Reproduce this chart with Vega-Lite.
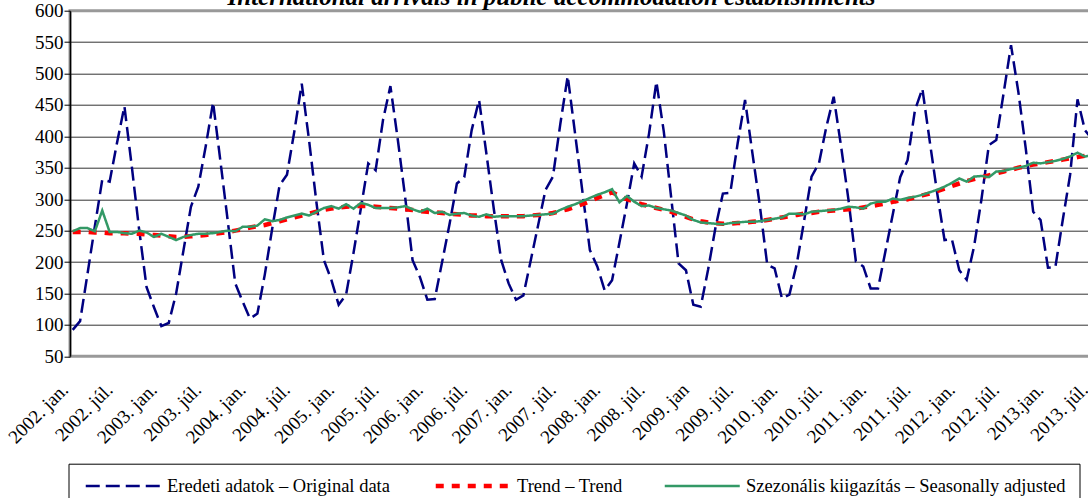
{
  "$schema": "https://vega.github.io/schema/vega-lite/v6.json",
  "width": 1025,
  "height": 345.6,
  "autosize": {"type": "none"},
  "padding": {"left": 70, "top": 10.7, "right": -7, "bottom": 141.7},
  "background": "white",
  "title": {
    "text": "International arrivals in public accommodation establishments",
    "font": "Liberation Serif, Times New Roman, DejaVu Serif, serif",
    "fontSize": 25,
    "fontStyle": "italic",
    "fontWeight": "bold",
    "color": "black",
    "anchor": "middle",
    "frame": "group",
    "baseline": "bottom",
    "offset": -33,
    "dx": -31
  },
  "config": {
    "view": {"stroke": "#999999", "strokeWidth": 3},
    "axis": {"labelFont": "Liberation Serif, Times New Roman, DejaVu Serif, serif", "labelColor": "black", "title": null},
    "legend": {
      "orient": "none",
      "legendX": -1.5,
      "legendY": 453,
      "direction": "horizontal",
      "strokeColor": "black",
      "fillColor": "white",
      "padding": 13,
      "symbolType": "M-1,0H14",
      "symbolSize": 100,
      "labelFont": "Liberation Serif, Times New Roman, DejaVu Serif, serif",
      "labelFontSize": 18.5,
      "labelColor": "black",
      "labelOffset": 67,
      "labelLimit": 0,
      "columnPadding": 36,
      "title": null
    }
  },
  "data": {
    "values": [
      {"m": "2002-01", "o": 92, "t": 248, "s": 249},
      {"m": "2002-02", "o": 106, "t": 248, "s": 254},
      {"m": "2002-03", "o": 181, "t": 248, "s": 254},
      {"m": "2002-04", "o": 257, "t": 247, "s": 249},
      {"m": "2002-05", "o": 331, "t": 247, "s": 282},
      {"m": "2002-06", "o": 328, "t": 246, "s": 248},
      {"m": "2002-07", "o": 390, "t": 246, "s": 248},
      {"m": "2002-08", "o": 448, "t": 246, "s": 246},
      {"m": "2002-09", "o": 352, "t": 245, "s": 245},
      {"m": "2002-10", "o": 251, "t": 245, "s": 250},
      {"m": "2002-11", "o": 160, "t": 244, "s": 247},
      {"m": "2002-12", "o": 128, "t": 243, "s": 240},
      {"m": "2003-01", "o": 98, "t": 242, "s": 245},
      {"m": "2003-02", "o": 103, "t": 241, "s": 240},
      {"m": "2003-03", "o": 150, "t": 240, "s": 235},
      {"m": "2003-04", "o": 219, "t": 240, "s": 240},
      {"m": "2003-05", "o": 288, "t": 241, "s": 243},
      {"m": "2003-06", "o": 320, "t": 242, "s": 245},
      {"m": "2003-07", "o": 384, "t": 243, "s": 245},
      {"m": "2003-08", "o": 454, "t": 245, "s": 246},
      {"m": "2003-09", "o": 360, "t": 246, "s": 248},
      {"m": "2003-10", "o": 264, "t": 248, "s": 250},
      {"m": "2003-11", "o": 166, "t": 250, "s": 249},
      {"m": "2003-12", "o": 137, "t": 252, "s": 256},
      {"m": "2004-01", "o": 110, "t": 255, "s": 256},
      {"m": "2004-02", "o": 118, "t": 257, "s": 258},
      {"m": "2004-03", "o": 180, "t": 259, "s": 268},
      {"m": "2004-04", "o": 253, "t": 262, "s": 265},
      {"m": "2004-05", "o": 322, "t": 265, "s": 267},
      {"m": "2004-06", "o": 339, "t": 268, "s": 271},
      {"m": "2004-07", "o": 408, "t": 271, "s": 274},
      {"m": "2004-08", "o": 484, "t": 274, "s": 277},
      {"m": "2004-09", "o": 393, "t": 277, "s": 274},
      {"m": "2004-10", "o": 294, "t": 280, "s": 280},
      {"m": "2004-11", "o": 203, "t": 283, "s": 286},
      {"m": "2004-12", "o": 172, "t": 285, "s": 289},
      {"m": "2005-01", "o": 132, "t": 287, "s": 285},
      {"m": "2005-02", "o": 148, "t": 288, "s": 292},
      {"m": "2005-03", "o": 214, "t": 289, "s": 285},
      {"m": "2005-04", "o": 285, "t": 289, "s": 294},
      {"m": "2005-05", "o": 357, "t": 289, "s": 291},
      {"m": "2005-06", "o": 346, "t": 288, "s": 286},
      {"m": "2005-07", "o": 426, "t": 287, "s": 286},
      {"m": "2005-08", "o": 480, "t": 286, "s": 286},
      {"m": "2005-09", "o": 395, "t": 285, "s": 287},
      {"m": "2005-10", "o": 303, "t": 284, "s": 289},
      {"m": "2005-11", "o": 203, "t": 283, "s": 284},
      {"m": "2005-12", "o": 176, "t": 281, "s": 280},
      {"m": "2006-01", "o": 140, "t": 280, "s": 285},
      {"m": "2006-02", "o": 141, "t": 279, "s": 278},
      {"m": "2006-03", "o": 200, "t": 278, "s": 280},
      {"m": "2006-04", "o": 260, "t": 277, "s": 275},
      {"m": "2006-05", "o": 325, "t": 276, "s": 277},
      {"m": "2006-06", "o": 335, "t": 275, "s": 278},
      {"m": "2006-07", "o": 410, "t": 274, "s": 274},
      {"m": "2006-08", "o": 458, "t": 274, "s": 272},
      {"m": "2006-09", "o": 372, "t": 273, "s": 276},
      {"m": "2006-10", "o": 284, "t": 273, "s": 272},
      {"m": "2006-11", "o": 203, "t": 273, "s": 273},
      {"m": "2006-12", "o": 166, "t": 273, "s": 273},
      {"m": "2007-01", "o": 140, "t": 273, "s": 273},
      {"m": "2007-02", "o": 147, "t": 273, "s": 273},
      {"m": "2007-03", "o": 203, "t": 274, "s": 274},
      {"m": "2007-04", "o": 259, "t": 275, "s": 275},
      {"m": "2007-05", "o": 315, "t": 276, "s": 276},
      {"m": "2007-06", "o": 336, "t": 278, "s": 277},
      {"m": "2007-07", "o": 420, "t": 281, "s": 283},
      {"m": "2007-08", "o": 496, "t": 284, "s": 288},
      {"m": "2007-09", "o": 404, "t": 288, "s": 292},
      {"m": "2007-10", "o": 311, "t": 292, "s": 297},
      {"m": "2007-11", "o": 219, "t": 297, "s": 302},
      {"m": "2007-12", "o": 193, "t": 302, "s": 307},
      {"m": "2008-01", "o": 155, "t": 307, "s": 311},
      {"m": "2008-02", "o": 171, "t": 311, "s": 316},
      {"m": "2008-03", "o": 231, "t": 305, "s": 295},
      {"m": "2008-04", "o": 292, "t": 300, "s": 305},
      {"m": "2008-05", "o": 357, "t": 296, "s": 296},
      {"m": "2008-06", "o": 336, "t": 292, "s": 289},
      {"m": "2008-07", "o": 404, "t": 289, "s": 290},
      {"m": "2008-08", "o": 487, "t": 286, "s": 286},
      {"m": "2008-09", "o": 408, "t": 283, "s": 284},
      {"m": "2008-10", "o": 303, "t": 280, "s": 282},
      {"m": "2008-11", "o": 198, "t": 276, "s": 278},
      {"m": "2008-12", "o": 187, "t": 272, "s": 274},
      {"m": "2009-01", "o": 132, "t": 268, "s": 267},
      {"m": "2009-02", "o": 129, "t": 265, "s": 263},
      {"m": "2009-03", "o": 188, "t": 263, "s": 262},
      {"m": "2009-04", "o": 255, "t": 262, "s": 261},
      {"m": "2009-05", "o": 309, "t": 261, "s": 260},
      {"m": "2009-06", "o": 310, "t": 261, "s": 262},
      {"m": "2009-07", "o": 389, "t": 262, "s": 263},
      {"m": "2009-08", "o": 458, "t": 263, "s": 264},
      {"m": "2009-09", "o": 373, "t": 264, "s": 264},
      {"m": "2009-10", "o": 290, "t": 265, "s": 265},
      {"m": "2009-11", "o": 196, "t": 267, "s": 267},
      {"m": "2009-12", "o": 190, "t": 269, "s": 269},
      {"m": "2010-01", "o": 142, "t": 271, "s": 271},
      {"m": "2010-02", "o": 148, "t": 273, "s": 277},
      {"m": "2010-03", "o": 197, "t": 275, "s": 277},
      {"m": "2010-04", "o": 266, "t": 277, "s": 276},
      {"m": "2010-05", "o": 336, "t": 278, "s": 280},
      {"m": "2010-06", "o": 357, "t": 280, "s": 281},
      {"m": "2010-07", "o": 415, "t": 281, "s": 282},
      {"m": "2010-08", "o": 463, "t": 282, "s": 283},
      {"m": "2010-09", "o": 384, "t": 283, "s": 285},
      {"m": "2010-10", "o": 299, "t": 284, "s": 288},
      {"m": "2010-11", "o": 201, "t": 285, "s": 287},
      {"m": "2010-12", "o": 193, "t": 287, "s": 285},
      {"m": "2011-01", "o": 158, "t": 289, "s": 293},
      {"m": "2011-02", "o": 158, "t": 291, "s": 296},
      {"m": "2011-03", "o": 217, "t": 293, "s": 296},
      {"m": "2011-04", "o": 276, "t": 296, "s": 301},
      {"m": "2011-05", "o": 335, "t": 298, "s": 299},
      {"m": "2011-06", "o": 362, "t": 300, "s": 302},
      {"m": "2011-07", "o": 442, "t": 303, "s": 304},
      {"m": "2011-08", "o": 476, "t": 306, "s": 307},
      {"m": "2011-09", "o": 392, "t": 309, "s": 311},
      {"m": "2011-10", "o": 310, "t": 313, "s": 315},
      {"m": "2011-11", "o": 235, "t": 317, "s": 320},
      {"m": "2011-12", "o": 236, "t": 321, "s": 326},
      {"m": "2012-01", "o": 187, "t": 325, "s": 333},
      {"m": "2012-02", "o": 172, "t": 329, "s": 328},
      {"m": "2012-03", "o": 225, "t": 332, "s": 336},
      {"m": "2012-04", "o": 300, "t": 335, "s": 337},
      {"m": "2012-05", "o": 386, "t": 338, "s": 335},
      {"m": "2012-06", "o": 394, "t": 341, "s": 344},
      {"m": "2012-07", "o": 469, "t": 344, "s": 345},
      {"m": "2012-08", "o": 545, "t": 347, "s": 348},
      {"m": "2012-09", "o": 470, "t": 350, "s": 350},
      {"m": "2012-10", "o": 380, "t": 353, "s": 353},
      {"m": "2012-11", "o": 280, "t": 355, "s": 358},
      {"m": "2012-12", "o": 267, "t": 357, "s": 357},
      {"m": "2013-01", "o": 191, "t": 359, "s": 359},
      {"m": "2013-02", "o": 192, "t": 361, "s": 361},
      {"m": "2013-03", "o": 267, "t": 363, "s": 364},
      {"m": "2013-04", "o": 339, "t": 365, "s": 368},
      {"m": "2013-05", "o": 459, "t": 367, "s": 374},
      {"m": "2013-06", "o": 410, "t": 369, "s": 368},
      {"m": "2013-07", "o": 395, "t": 371, "s": 370}
    ]
  },
  "transform": [{"fold": ["o", "t", "s"], "as": ["k", "v"]}],
  "mark": {"type": "line", "strokeCap": "butt", "strokeJoin": "miter"},
  "encoding": {
    "x": {
      "field": "m",
      "type": "ordinal",
      "sort": null,
      "scale": {"type": "point", "padding": 0.365},
      "axis": {
        "values": ["2002-01","2002-07","2003-01","2003-07","2004-01","2004-07","2005-01","2005-07","2006-01","2006-07","2007-01","2007-07","2008-01","2008-07","2009-01","2009-07","2010-01","2010-07","2011-01","2011-07","2012-01","2012-07","2013-01","2013-07"],
        "labelExpr": "slice(datum.value,0,4) + (datum.value == '2009-01' ? '. jan' : datum.value == '2013-01' ? '.jan.' : slice(datum.value,5) == '01' ? '. jan.' : '. júl.')",
        "labelFont": "Liberation Serif, Times New Roman, DejaVu Serif, serif",
        "labelAngle": -45,
        "labelAlign": "right",
        "labelBaseline": "middle",
        "labelFontSize": 19,
        "labelPadding": 30,
        "labelOffset": -8,
        "labelOverlap": false,
        "ticks": false,
        "domain": false,
        "grid": false
      }
    },
    "y": {
      "field": "v",
      "type": "quantitative",
      "scale": {"domain": [50, 600], "nice": false, "zero": false},
      "axis": {
        "values": [50,100,150,200,250,300,350,400,450,500,550,600],
        "labelFont": "Liberation Serif, Times New Roman, DejaVu Serif, serif",
        "labelFontSize": 19,
        "labelPadding": 1,
        "tickSize": 6,
        "tickColor": "black",
        "domainColor": "black",
        "domainWidth": 1.5,
        "grid": true,
        "gridColor": {"condition": {"test": "datum.value == 600 || datum.value == 50", "value": "transparent"}, "value": "#333333"},
        "gridWidth": 1
      }
    },
    "color": {
      "field": "k",
      "type": "nominal",
      "scale": {"domain": ["o", "t", "s"], "range": ["#000080", "#FF0000", "#339966"]},
      "legend": {"labelExpr": "datum.value == 'o' ? 'Eredeti adatok – Original data' : datum.value == 't' ? 'Trend – Trend' : 'Szezonális kiigazítás – Seasonally adjusted'"}
    },
    "strokeDash": {
      "field": "k",
      "type": "nominal",
      "scale": {"domain": ["o", "t", "s"], "range": [[14, 6], [8, 8], [1, 0]]},
      "legend": {"labelExpr": "datum.value == 'o' ? 'Eredeti adatok – Original data' : datum.value == 't' ? 'Trend – Trend' : 'Szezonális kiigazítás – Seasonally adjusted'"}
    },
    "strokeWidth": {
      "field": "k",
      "type": "nominal",
      "scale": {"type": "ordinal", "domain": ["o", "t", "s"], "range": [2.5, 4.5, 2.5]},
      "legend": {"labelExpr": "datum.value == 'o' ? 'Eredeti adatok – Original data' : datum.value == 't' ? 'Trend – Trend' : 'Szezonális kiigazítás – Seasonally adjusted'"}
    }
  }
}
